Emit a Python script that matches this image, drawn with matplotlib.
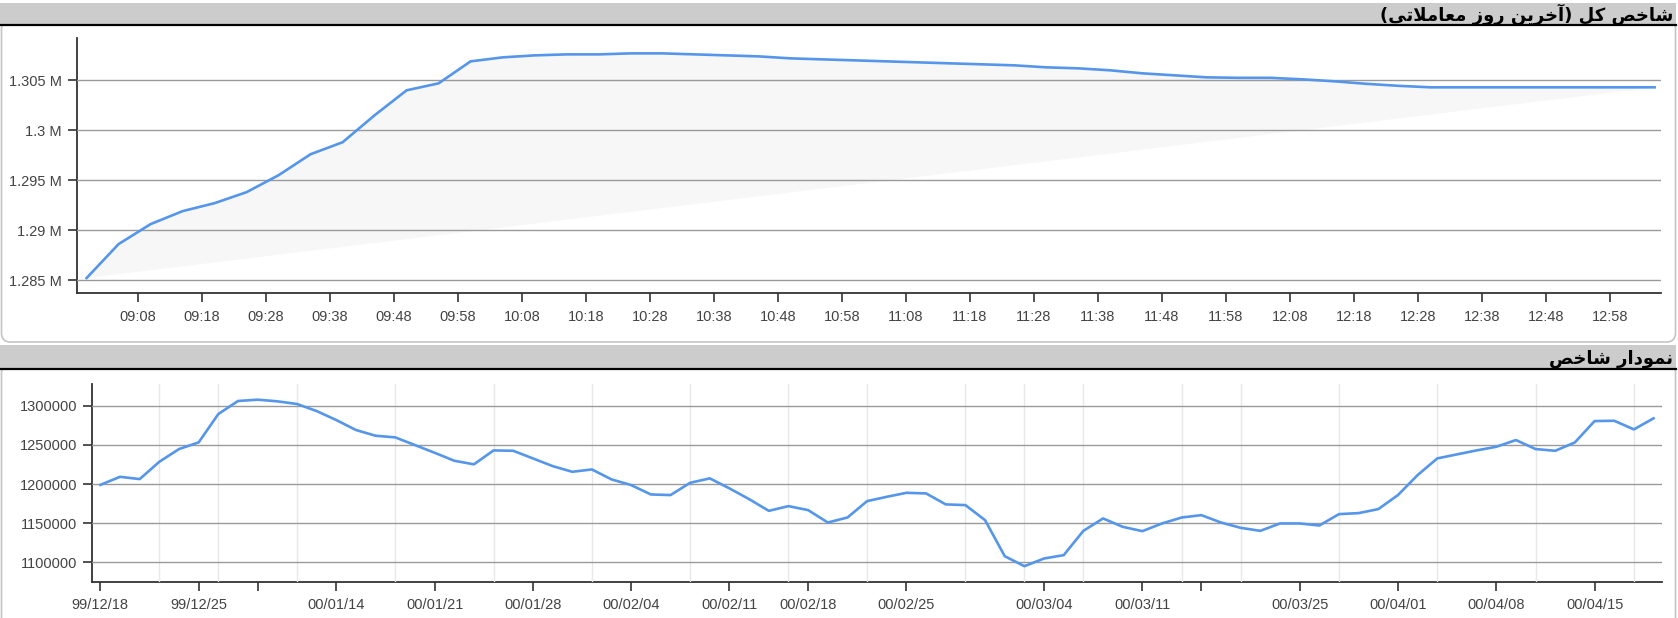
import matplotlib
matplotlib.use("Agg")
import matplotlib.pyplot as plt
from matplotlib.patches import Rectangle, FancyBboxPatch
from matplotlib.ticker import FuncFormatter

# ---- data: last trading day (5 minute steps) ----
times = ["09:00", "09:05", "09:10", "09:15", "09:20", "09:25", "09:30", "09:35", "09:40", "09:45",
         "09:50", "09:55", "10:00", "10:05", "10:10", "10:15", "10:20", "10:25", "10:30", "10:35",
         "10:40", "10:45", "10:50", "10:55", "11:00", "11:05", "11:10", "11:15", "11:20", "11:25",
         "11:30", "11:35", "11:40", "11:45", "11:50", "11:55", "12:00", "12:05", "12:10", "12:15",
         "12:20", "12:25", "12:30", "12:35", "12:40", "12:45", "12:50", "12:55", "13:00", "13:05"]
index_today = [1285200, 1288600, 1290600, 1291900, 1292700, 1293800, 1295500, 1297600, 1298800, 1301500,
               1304000, 1304700, 1306900, 1307300, 1307500, 1307600, 1307600, 1307700, 1307700, 1307600,
               1307500, 1307400, 1307200, 1307100, 1307000, 1306900, 1306800, 1306700, 1306600, 1306500,
               1306300, 1306200, 1306000, 1305700, 1305500, 1305300, 1305250, 1305250, 1305100, 1304900,
               1304650, 1304450, 1304300, 1304300, 1304300, 1304300, 1304300, 1304300, 1304300, 1304300]
time_ticks = ["09:08", "09:18", "09:28", "09:38", "09:48", "09:58", "10:08", "10:18", "10:28", "10:38",
              "10:48", "10:58", "11:08", "11:18", "11:28", "11:38", "11:48", "11:58", "12:08", "12:18",
              "12:28", "12:38", "12:48", "12:58"]
today_yticks = [1285000, 1290000, 1295000, 1300000, 1305000]

# ---- data: daily index (one value per trading day) ----
index_daily = [1199000, 1209300, 1206400, 1228500, 1244700, 1253200, 1289400, 1306000, 1307700, 1305600,
               1302200, 1293200, 1281700, 1269000, 1261700, 1259600, 1249800, 1240000, 1229800, 1225200,
               1243000, 1242500, 1232800, 1223000, 1215700, 1218700, 1206000, 1198700, 1186800, 1186000,
               1201700, 1207300, 1194500, 1180800, 1165900, 1171900, 1166800, 1151000, 1157400, 1178300,
               1183800, 1188900, 1188100, 1174100, 1173200, 1154000, 1108000, 1095300, 1105100, 1109400,
               1140400, 1156200, 1145500, 1140000, 1149800, 1157400, 1160400, 1151000, 1144200, 1140400,
               1149800, 1149800, 1147200, 1161700, 1163000, 1168100, 1186000, 1211500, 1232800, 1237900,
               1243000, 1247600, 1256200, 1244700, 1242500, 1253200, 1280400, 1280800, 1269800, 1283900]
date_tick_pos = [0, 5, 8, 12, 17, 22, 27, 32, 36, 41, 48, 53, 56, 61, 66, 71, 76]
date_tick_labels = ["99/12/18", "99/12/25", "", "00/01/14", "00/01/21", "00/01/28", "00/02/04",
                    "00/02/11", "00/02/18", "00/02/25", "00/03/04", "00/03/11", "", "00/03/25",
                    "00/04/01", "00/04/08", "00/04/15"]
date_grid_pos = [0, 3, 6, 8, 10, 12, 15, 17, 20, 22, 25, 27, 30, 32, 35, 36, 39, 41, 44, 47,
                 50, 53, 55, 58, 61, 63, 66, 68, 71, 73, 76, 78]
daily_yticks = [1100000, 1150000, 1200000, 1250000, 1300000]

title_today = "شاخص کل (آخرین روز معاملاتی)"
title_daily = "نمودار شاخص"

# matplotlib does no arabic shaping / rtl, so do it by hand with presentation forms
FORMS = {
    "ا": ("\uFE8D", "\uFE8E", None, None),
    "آ": ("\uFE81", "\uFE82", None, None),
    "ت": ("\uFE95", "\uFE96", "\uFE97", "\uFE98"),
    "خ": ("\uFEA5", "\uFEA6", "\uFEA7", "\uFEA8"),
    "د": ("\uFEA9", "\uFEAA", None, None),
    "ر": ("\uFEAD", "\uFEAE", None, None),
    "ز": ("\uFEAF", "\uFEB0", None, None),
    "ش": ("\uFEB5", "\uFEB6", "\uFEB7", "\uFEB8"),
    "ص": ("\uFEB9", "\uFEBA", "\uFEBB", "\uFEBC"),
    "ع": ("\uFEC9", "\uFECA", "\uFECB", "\uFECC"),
    "ل": ("\uFEDD", "\uFEDE", "\uFEDF", "\uFEE0"),
    "م": ("\uFEE1", "\uFEE2", "\uFEE3", "\uFEE4"),
    "ن": ("\uFEE5", "\uFEE6", "\uFEE7", "\uFEE8"),
    "و": ("\uFEED", "\uFEEE", None, None),
    "ک": ("\uFB8E", "\uFB8F", "\uFB90", "\uFB91"),
    "ی": ("\uFBFC", "\uFBFD", "\uFBFE", "\uFBFF"),
}
LAM_ALEF = {"ا": ("\uFEFB", "\uFEFC"), "آ": ("\uFEF5", "\uFEF6")}


def shape(text):
    out = []
    i = 0
    while i < len(text):
        c = text[i]
        if c not in FORMS:
            out.append(c)
            i += 1
            continue
        prev = text[i - 1] if i > 0 else ""
        joins_prev = prev in FORMS and FORMS[prev][2] is not None
        if c == "ل" and i + 1 < len(text) and text[i + 1] in LAM_ALEF:
            out.append(LAM_ALEF[text[i + 1]][1 if joins_prev else 0])
            i += 2
            continue
        nxt = text[i + 1] if i + 1 < len(text) else ""
        joins_next = FORMS[c][2] is not None and nxt in FORMS
        iso, fin, ini, med = FORMS[c]
        if joins_prev and joins_next:
            out.append(med)
        elif joins_prev:
            out.append(fin)
        elif joins_next:
            out.append(ini)
        else:
            out.append(iso)
        i += 1
    vis = "".join(reversed(out))
    return vis.translate(str.maketrans("()", ")("))


def to_min(s):
    h, m = s.split(":")
    return (int(h) - 9) * 60 + int(m)


W, H = 1678, 618
fig = plt.figure(figsize=(W / 100, H / 100), dpi=100)
plt.rcParams["font.family"] = ["Liberation Sans", "DejaVu Sans"]

# background: panels and header bars (pixel coords)
bg = fig.add_axes([0, 0, 1, 1])
bg.set_xlim(0, W)
bg.set_ylim(H, 0)
bg.axis("off")
for y0, y1 in [(20, 342), (364, 660)]:
    bg.add_patch(FancyBboxPatch((1.5, y0), 1674, y1 - y0, boxstyle="round,pad=0,rounding_size=9",
                                fc="white", ec="#c4c4c4", lw=1.2))
for y0, y1 in [(3, 25), (345, 369)]:
    bg.add_patch(Rectangle((0, y0), 1676, y1 - y0, fc="#cccccc", ec="none"))
    bg.plot([0, 1676], [y1, y1], color="black", lw=1.6)
bg.text(1673, 21, shape(title_today), ha="right", va="baseline", fontsize=13,
        fontweight="bold", family="DejaVu Sans", color="black")
bg.text(1673, 364, shape(title_daily), ha="right", va="baseline", fontsize=13,
        fontweight="bold", family="DejaVu Sans", color="black")

line_color = "#5596ea"
text_color = "#444444"


def style_axes(ax):
    for s in ["top", "right"]:
        ax.spines[s].set_visible(False)
    for s in ["left", "bottom"]:
        ax.spines[s].set_color("#333333")
        ax.spines[s].set_linewidth(1.3)
    ax.tick_params(which="major", length=6.5, width=1.2, color="#333333",
                   labelcolor=text_color, labelsize=10.5, pad=4.5)
    ax.tick_params(axis="x", which="major", pad=5.5)
    ax.grid(axis="y", color="#9a9a9a", lw=1)
    ax.set_axisbelow(False)


# ---- top chart: intraday ----
t = [to_min(s) for s in times]
ax1 = fig.add_axes([77 / W, 1 - 293 / H, (1661 - 77) / W, (293 - 38) / H])
ax1.fill(t, index_today, color="#f7f7f7", lw=0, zorder=1)
ax1.plot(t, index_today, color=line_color, lw=1.9, zorder=3)
ax1.set_xlim(-1.5, 246)
ax1.set_ylim(1283700, 1309240)
ax1.set_yticks(today_yticks)
ax1.yaxis.set_major_formatter(FuncFormatter(lambda v, p: f"{v / 1e6:g} M"))
ax1.set_xticks([to_min(s) for s in time_ticks])
ax1.set_xticklabels(time_ticks)
style_axes(ax1)

# ---- bottom chart: daily ----
x = list(range(len(index_daily)))
ax2 = fig.add_axes([92.3 / W, 1 - 581.7 / H, (1662 - 92.3) / W, (581.7 - 384) / H])
ax2.plot(x, index_daily, color=line_color, lw=1.9, zorder=3)
ax2.set_xlim(-0.41, 79.43)
ax2.set_ylim(1075500, 1327700)
ax2.set_yticks(daily_yticks)
ax2.yaxis.set_major_formatter(FuncFormatter(lambda v, p: f"{v:.0f}"))
ax2.set_xticks(date_tick_pos)
ax2.set_xticklabels(date_tick_labels)
ax2.set_xticks(date_grid_pos, minor=True)
ax2.tick_params(axis="x", which="minor", length=0)
style_axes(ax2)
ax2.grid(axis="x", which="minor", color="#e8e8e8", lw=1, zorder=0.5)

fig.savefig("out.png", dpi=100)
